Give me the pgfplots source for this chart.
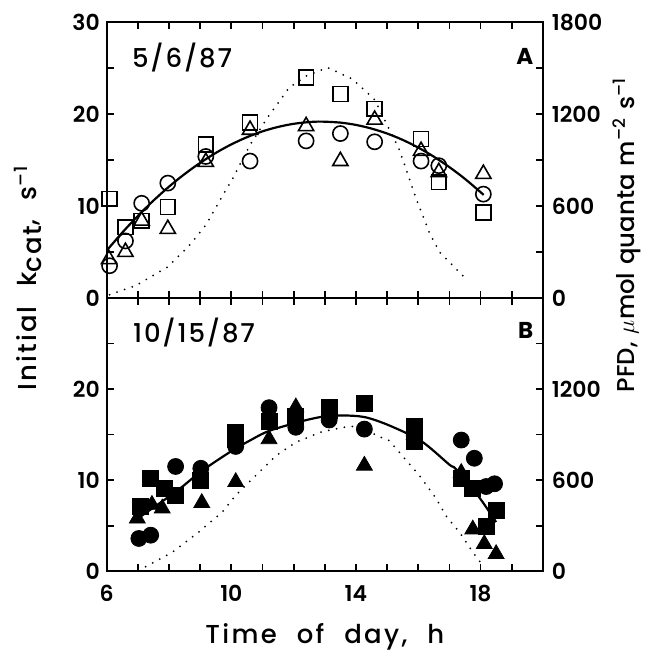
\documentclass[border=0pt]{standalone}
\usepackage{fontspec}
\setmainfont{Poppins}[UprightFont=* Medium, BoldFont=* Bold]
\newfontfamily\tickfont{Poppins}[UprightFont=* SemiBold]
\newfontfamily\lblfont{Poppins}[UprightFont=* Medium, LetterSpace=9, WordSpace=2.2]
\newfontfamily\leftfont{Poppins}[UprightFont=* Medium, LetterSpace=8, WordSpace=2.2]
\newfontfamily\rightfont{Poppins}[UprightFont=* Medium, WordSpace=1.3]
\newfontfamily\datefont{Poppins}[UprightFont=* Medium, LetterSpace=7]
\usepackage{pgfplots}
\pgfplotsset{compat=1.18}

% common look of both panels
\pgfplotsset{
  panel/.style={
    scale only axis, width=218.5pt,
    xmin=6, xmax=20, ymin=0, ymax=30,
    xtick={6,10,14,18}, minor xtick={7,8,9,11,12,13,15,16,17,19},
    ytick={0,10,20,30}, minor ytick={5,15,25},
    xtick pos=both, ytick pos=left,
    tick align=inside,
    major tick length=3.5pt, minor tick length=3.5pt,
    axis line style={line width=1pt},
    every tick/.style={black, line width=0.9pt},
    tick label style={font=\tickfont\fontsize{11}{11}\selectfont},
    xticklabel style={yshift=-3.5pt},
    /pgf/number format/assume math mode=true,
    /pgf/number format/1000 sep={},
    scaled y ticks=false,
    clip=false,
  },
  pfd/.style={
    scale only axis, width=218.5pt,
    xmin=6, xmax=20, ymin=0, ymax=1800,
    axis x line=none, axis y line*=right,
    minor ytick={300,900,1500},
    tick align=inside,
    major tick length=3.5pt, minor tick length=3.5pt,
    axis line style={line width=1pt},
    every tick/.style={black, line width=0.9pt},
    tick label style={font=\tickfont\fontsize{11}{11}\selectfont},
    yticklabel style={xshift=1pt},
    /pgf/number format/assume math mode=true,
    /pgf/number format/1000 sep={},
    scaled y ticks=false,
  },
  fit/.style={black, line width=1.1pt, no marks, smooth},
  light/.style={black, line width=1pt, no marks, line cap=round, dash pattern=on 0pt off 4pt},
  osq/.style={only marks, mark=square, mark size=3.7pt, mark options={black, line width=0.8pt}},
  ocirc/.style={only marks, mark=o, mark size=3.8pt, mark options={black, line width=0.8pt}},
  otri/.style={only marks, mark=triangle, mark size=4.4pt, mark options={black, line width=0.8pt}},
  fsq/.style={only marks, mark=square*, mark size=4pt, mark options={black, fill=black}},
  fcirc/.style={only marks, mark=*, mark size=4pt, mark options={black, fill=black}},
  ftri/.style={only marks, mark=triangle*, mark size=4.6pt, mark options={black, fill=black}},
}

\begin{document}
\begin{tikzpicture}
% fixes the page to the reference's frame
\path (-53.5pt,149.25pt) rectangle (272pt,-179.25pt);

% ---------- panel A, 5/6/87 ----------
\begin{axis}[panel, name=top, at={(0,0)}, anchor=south west, height=138pt,
    xticklabels={}]
\addplot[fit] coordinates {(6.0,5.16) (6.5,7.12) (7.0,8.93) (7.5,10.60) (8.0,12.12) (8.5,13.49)
  (9.0,14.71) (9.5,15.79) (10.0,16.72) (10.5,17.50) (11.0,18.14) (11.5,18.62) (12.0,18.96)
  (12.5,19.15) (12.9,19.2) (13.5,19.09) (14.0,18.84) (14.5,18.44) (15.0,17.90) (15.5,17.21)
  (16.0,16.37) (16.5,15.38) (17.0,14.24) (17.5,12.96) (18.1,11.22)};
\addplot[osq] coordinates {(6.09,10.8) (6.6,7.7) (7.12,8.4) (7.96,9.9) (9.18,16.7) (10.6,19.1)
  (12.4,24.0) (13.5,22.2) (14.6,20.6) (16.09,17.3) (16.66,12.6) (18.09,9.3)};
\addplot[otri] coordinates {(6.07,4.2) (6.6,5.0) (7.12,8.4) (7.96,7.5) (9.18,14.8) (10.6,18.3)
  (12.4,18.7) (13.5,14.9) (14.6,19.4) (16.09,16.0) (16.66,13.7) (18.09,13.5)};
\addplot[ocirc] coordinates {(6.09,3.5) (6.6,6.2) (7.12,10.3) (7.96,12.5) (9.18,15.4) (10.6,14.9)
  (12.4,17.1) (13.5,17.9) (14.6,17.0) (16.09,14.9) (16.66,14.4) (18.09,11.3)};
\node[anchor=north west, inner sep=0pt, font=\datefont\fontsize{13}{13}\selectfont] at (rel axis cs:0.057,0.926) {5/6/87};
\node[anchor=north east, inner sep=0pt, font=\fontsize{11.5}{11.5}\selectfont\bfseries] at (rel axis cs:0.979,0.908) {A};
\end{axis}
\begin{axis}[pfd, at={(0,0)}, anchor=south west, height=138pt,
    ytick={0,600,1200,1800}]
\addplot[light] coordinates {(6.09,20) (6.5,50) (6.93,80) (7.94,200) (8.64,340) (9.18,475)
  (9.71,665) (10.03,775) (10.6,1000) (11.2,1190) (11.86,1375) (12.4,1450) (13.09,1505)
  (13.89,1430) (14.6,1295) (15.39,970) (15.93,650) (16.36,425) (16.68,300) (17.43,145)};
\end{axis}

% ---------- panel B, 10/15/87 ----------
\begin{axis}[panel, name=bot, at={(0,0)}, anchor=north west, height=137pt,
    ytick={0,10,20}]
\addplot[fit] coordinates {(7.0,5.8) (7.5,7.0) (8.0,8.2) (8.42,9.27) (9.07,11.06) (10.03,13.25)
  (10.57,14.3) (11.21,15.4) (12.3,16.5) (13.0,17.0) (13.6,17.1) (14.3,16.9) (15.07,16.0)
  (16.09,14.3) (17.0,11.7) (17.21,11.2) (17.96,8.1) (18.5,5.4)};
\addplot[fsq] coordinates {(7.09,7.1) (7.41,10.2) (7.84,9.1) (8.21,8.35) (9.02,10.0) (10.14,15.2)
  (10.14,14.5) (11.21,16.4) (12.07,17.0) (13.14,18.0) (13.14,17.6) (14.27,18.4) (15.87,15.9)
  (15.87,14.2) (17.38,10.2) (17.75,9.1) (18.18,4.9) (18.5,6.7)};
\addplot[fcirc] coordinates {(7.03,3.6) (7.41,3.96) (8.21,11.5) (9.02,11.3) (10.14,13.7)
  (11.21,17.95) (12.07,16.6) (12.07,15.8) (13.14,16.6) (14.27,15.6) (15.87,14.9) (17.38,14.4)
  (17.8,12.4) (18.18,9.3) (18.45,9.6)};
\addplot[ftri] coordinates {(6.98,5.8) (7.45,7.3) (7.78,6.9) (9.05,7.5) (10.14,9.8) (11.21,14.5)
  (12.07,18.0) (14.27,11.6) (15.87,15.0) (17.38,10.8) (17.75,4.6) (18.12,3.0) (18.5,1.9)};
\node[anchor=north west, inner sep=0pt, font=\datefont\fontsize{13}{13}\selectfont] at (rel axis cs:0.0595,0.927) {10/15/87};
\node[anchor=north east, inner sep=0pt, font=\fontsize{11.5}{11.5}\selectfont\bfseries] at (rel axis cs:0.979,0.913) {B};
\end{axis}
\begin{axis}[pfd, at={(0,0)}, anchor=north west, height=137pt,
    ytick={0,600,1200}]
\addplot[light] coordinates {(7.25,30) (8.1,125) (8.96,260) (9.71,390) (10.14,500) (10.78,630)
  (11.43,760) (12.07,850) (12.93,920) (13.79,955) (14.3,945) (14.64,895) (15.07,860)
  (15.66,720) (16.04,630) (16.57,480) (16.89,365) (17.32,258) (17.75,126) (18.07,40)};
\end{axis}

% axis titles
\node[rotate=90, anchor=west, font=\leftfont\fontsize{13}{13}\selectfont] at (-39.5pt,-49.75pt)
  {Initial k\raisebox{-0.35ex}{cat}, s\textsuperscript{–1}};
\node[rotate=90, anchor=west, font=\rightfont\fontsize{12.2}{12.2}\selectfont] at (260.5pt,-50.75pt)
  {PFD, $\mu$mol quanta m\textsuperscript{–2} s\textsuperscript{–1}};
\node[anchor=base, font=\lblfont\fontsize{13}{13}\selectfont] at (109.25pt,-173.25pt) {Time of day, h};
\end{tikzpicture}
\end{document}
